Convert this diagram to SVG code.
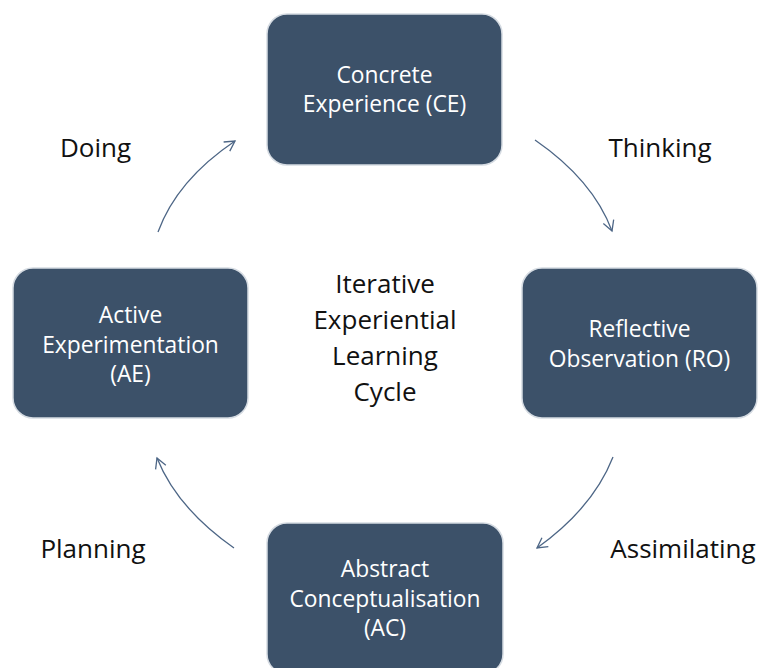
<svg xmlns="http://www.w3.org/2000/svg" width="760" height="668" viewBox="0 0 760 668">
  <defs>
    <style>
      .box { fill: #3c5169; stroke: #d5dbe2; stroke-width: 1.5; }
      .nt { font-family: "Open Sans", "Liberation Sans", sans-serif; font-size: 22.8px; fill: #ffffff; text-anchor: middle; }
      .lbl { font-family: "Open Sans", "Liberation Sans", sans-serif; font-size: 26px; fill: #111111; text-anchor: middle; }
      .arr { fill: none; stroke: #4d6686; stroke-width: 1.3; marker-end: url(#ah); }
    </style>
    <marker id="ah" viewBox="-12 -7 14 14" markerWidth="14" markerHeight="14" refX="0" refY="0" orient="auto" markerUnits="userSpaceOnUse">
      <path d="M-10,-5.5 L0,0 L-10,5.5" fill="none" stroke="#4d6686" stroke-width="1.3"/>
    </marker>
  </defs>
  <rect width="760" height="668" fill="#ffffff"/>

  <g id="connectors">
    <path class="arr" d="M535,140 Q593,180 612,231"/>
    <path class="arr" d="M613,457 Q593,508 537,548"/>
    <path class="arr" d="M234,548 Q177,508 157,458"/>
    <path class="arr" d="M158,232 Q177,180 235,141"/>
  </g>

  <g id="node-ce">
    <rect class="box" x="267" y="14" width="235" height="151" rx="20"/>
    <text class="nt" x="384.5" y="83">Concrete</text>
    <text class="nt" x="384.5" y="112">Experience (CE)</text>
  </g>
  <g id="node-ro">
    <rect class="box" x="522" y="268" width="235" height="150" rx="20"/>
    <text class="nt" x="639.5" y="337">Reflective</text>
    <text class="nt" x="639.5" y="367">Observation (RO)</text>
  </g>
  <g id="node-ac">
    <rect class="box" x="267" y="523" width="236" height="151" rx="20"/>
    <text class="nt" x="385" y="577">Abstract</text>
    <text class="nt" x="385" y="607">Conceptualisation</text>
    <text class="nt" x="385" y="636">(AC)</text>
  </g>
  <g id="node-ae">
    <rect class="box" x="13" y="268" width="235" height="150" rx="20"/>
    <text class="nt" x="130.5" y="323">Active</text>
    <text class="nt" x="130.5" y="353">Experimentation</text>
    <text class="nt" x="130.5" y="382">(AE)</text>
  </g>

  <g id="center-label">
    <text class="lbl" x="385" y="293">Iterative</text>
    <text class="lbl" x="385" y="329">Experiential</text>
    <text class="lbl" x="385" y="365">Learning</text>
    <text class="lbl" x="385" y="401">Cycle</text>
  </g>

  <g id="edge-labels">
    <text class="lbl" x="95.5" y="157">Doing</text>
    <text class="lbl" x="660" y="157">Thinking</text>
    <text class="lbl" x="93" y="558">Planning</text>
    <text class="lbl" x="683" y="558">Assimilating</text>
  </g>
</svg>
